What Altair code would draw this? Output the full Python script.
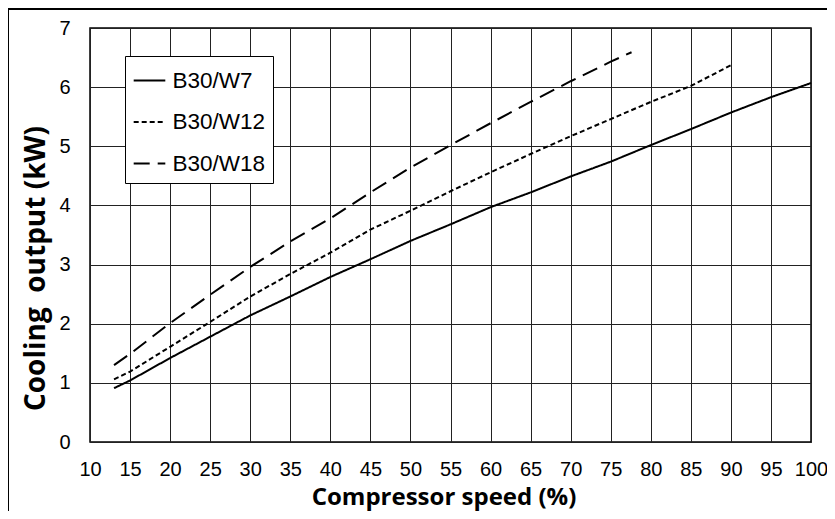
import altair as alt
import pandas as pd

# Data
speed_w7 = [13, 15, 20, 25, 30, 35, 40, 45, 50, 55, 60, 65, 70, 75, 80, 85, 90, 95, 100]
cool_w7 = [0.91, 1.04, 1.42, 1.78, 2.14, 2.46, 2.79, 3.09, 3.40, 3.68, 3.97, 4.22, 4.49, 4.74, 5.02, 5.29, 5.57, 5.83, 6.07]

speed_w12 = [13, 15, 20, 25, 30, 35, 40, 45, 50, 55, 60, 65, 70, 75, 80, 85, 90]
cool_w12 = [1.06, 1.19, 1.61, 2.03, 2.46, 2.84, 3.20, 3.59, 3.91, 4.24, 4.56, 4.87, 5.17, 5.46, 5.75, 6.02, 6.37]

speed_w18 = [13, 15, 20, 25, 30, 35, 40, 45, 50, 55, 60, 65, 70, 75, 77.6]
cool_w18 = [1.30, 1.49, 2.01, 2.49, 2.96, 3.39, 3.78, 4.22, 4.64, 5.02, 5.39, 5.75, 6.10, 6.43, 6.59]

series_names = ["B30/W7", "B30/W12", "B30/W18"]
x_ticks = list(range(10, 101, 5))
y_ticks = list(range(0, 8))

rows = []
for name, xs, ys in zip(series_names, [speed_w7, speed_w12, speed_w18], [cool_w7, cool_w12, cool_w18]):
    for xv, yv in zip(xs, ys):
        rows.append({"series": name, "speed": xv, "kw": yv})
df = pd.DataFrame(rows)

lines = alt.Chart(df).mark_line(color="black", strokeWidth=2).encode(
    x=alt.X("speed:Q",
            scale=alt.Scale(domain=[10, 100], nice=False, zero=False),
            axis=alt.Axis(values=x_ticks, title="Compressor speed (%)", labelPadding=17,
                          labelFlush=False, titlePadding=6, titleX=353.5,
                          titleFontSize=24)),
    y=alt.Y("kw:Q",
            scale=alt.Scale(domain=[0, 7], nice=False),
            axis=alt.Axis(values=y_ticks, title="Cooling\u00a0 output (kW)", labelPadding=20,
                          labelFlush=False, titlePadding=8, titleY=240,
                          titleFontSize=28)),
    strokeDash=alt.StrokeDash(
        "series:N",
        scale=alt.Scale(domain=series_names, range=[[1, 0], [5, 3], [16, 8]]),
        sort=series_names,
        legend=alt.Legend(
            title=None, orient="none", legendX=35, legendY=28,
            symbolType="stroke", symbolStrokeColor="black", symbolStrokeWidth=2,
            symbolSize=1000, labelFont="Liberation Sans", labelFontSize=22.5,
            labelColor="black", rowPadding=12.5, padding=7.5,
            fillColor="white", strokeColor="black", labelOffset=6,
        ),
    ),
    order=alt.Order("speed:Q"),
)

frame = alt.Chart(df).mark_rect(fill=None, fillOpacity=0, stroke="black", strokeWidth=1).encode(
    x=alt.value(-81.5), x2=alt.value(760), y=alt.value(-18.7), y2=alt.value(520)
)

chart = alt.layer(lines, frame).properties(
    width=721, height=414,
    padding={"left": 82, "top": 20, "right": 16, "bottom": 69},
    autosize=alt.AutoSizeParams(type="none"),
).configure_view(
    stroke="black", strokeWidth=1.5
).configure_axis(
    grid=True, gridColor="#222", gridWidth=1, gridOpacity=1,
    domain=False, ticks=False, tickSize=0,
    labelFont="Liberation Sans", labelFontSize=20, labelColor="black",
    titleFont="Open Sans", titleFontWeight="bold", titleColor="black",
)

chart.save("out.html", embed_options={"renderer": "svg", "actions": False})
